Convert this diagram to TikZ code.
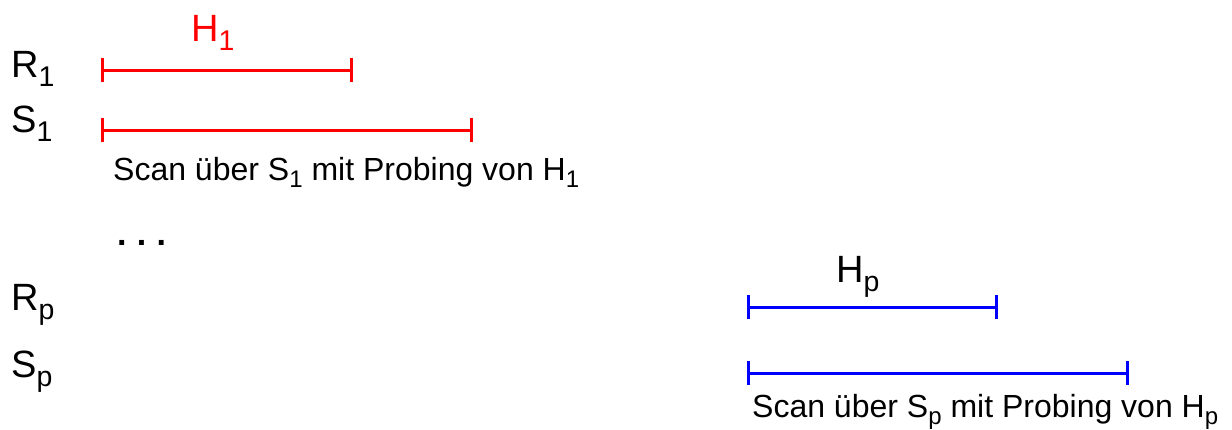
\documentclass[tikz,border=0pt]{standalone}
\usepackage{fontspec}
\setmainfont{Liberation Sans}
\usetikzlibrary{positioning,arrows.meta}

\newcommand{\idx}[1]{\raisebox{-0.24em}{\scalebox{0.75}{#1}}}

\tikzset{
  rel/.style={anchor=base west, inner sep=0pt, font=\fontsize{38}{42}\selectfont},
  scantxt/.style={anchor=base west, inner sep=0pt, font=\fontsize{32}{36}\selectfont},
  part/.style={line width=3pt, {Bar[width=24pt]}-{Bar[width=24pt]}}
}

\begin{document}
\begin{tikzpicture}[x=1pt, y=-1pt]
  \useasboundingbox (0,0) rectangle (1232,429);

  % first partition
  \node[rel] (r1) at (11,77) {R\idx{1}};
  \node[rel] (s1) at (11,132) {S\idx{1}};
  \node[rel, red] (h1) at (191,41) {H\idx{1}};
  \coordinate (r1a) at (101,70);
  \coordinate (r1b) at (353,70);
  \coordinate (s1a) at (101,130);
  \coordinate (s1b) at (473,130);
  \draw[part, red] (r1a) -- (r1b);
  \draw[part, red] (s1a) -- (s1b);
  \node[scantxt] (scan1) at (113,180) {Scan über S\idx{1} mit Probing von H\idx{1}};

  \node[rel, font=\bfseries\fontsize{34}{40}\selectfont] (dots) at (117,245)
    {.\hspace{0.3em}.\hspace{0.3em}.};

  % partition p
  \node[rel] (rp) at (11,310) {R\idx{p}};
  \node[rel] (sp) at (11,377) {S\idx{p}};
  \node[rel] (hp) at (836,282) {H\idx{p}};
  \coordinate (rpa) at (747,307);
  \coordinate (rpb) at (998,307);
  \coordinate (spa) at (747,373);
  \coordinate (spb) at (1129,373);
  \draw[part, blue] (rpa) -- (rpb);
  \draw[part, blue] (spa) -- (spb);
  \node[scantxt] (scanp) at (752,417) {Scan über S\idx{p} mit Probing von H\idx{p}};
\end{tikzpicture}
\end{document}
